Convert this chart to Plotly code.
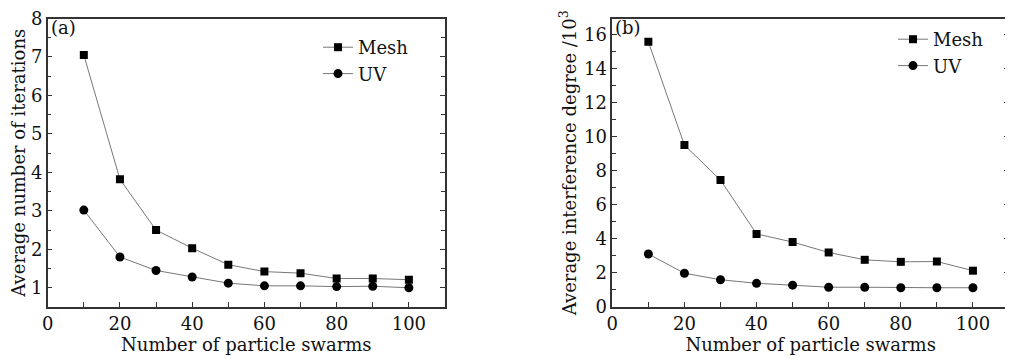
import plotly.graph_objects as go

swarms = [10, 20, 30, 40, 50, 60, 70, 80, 90, 100]
iter_mesh = [7.05, 3.82, 2.50, 2.03, 1.60, 1.42, 1.38, 1.24, 1.24, 1.21]
iter_uv = [3.02, 1.80, 1.45, 1.28, 1.12, 1.05, 1.05, 1.03, 1.04, 1.00]
interf_mesh = [15.56, 9.50, 7.45, 4.29, 3.81, 3.20, 2.77, 2.65, 2.67, 2.13]
interf_uv = [3.11, 1.98, 1.60, 1.39, 1.28, 1.16, 1.16, 1.13, 1.13, 1.13]

FONT = "DejaVu Serif"
FS = 18
TXT = "#111111"
LINE = dict(color="#777777", width=1)
W, H = 1013, 359

fig = go.Figure()
fig.add_trace(go.Scatter(x=swarms, y=iter_mesh, name="Mesh", mode="lines+markers",
                         line=LINE, marker=dict(symbol="square", size=8, color="black"),
                         xaxis="x", yaxis="y", legend="legend"))
fig.add_trace(go.Scatter(x=swarms, y=iter_uv, name="UV", mode="lines+markers",
                         line=LINE, marker=dict(symbol="circle", size=9, color="black"),
                         xaxis="x", yaxis="y", legend="legend"))
fig.add_trace(go.Scatter(x=swarms, y=interf_mesh, name="Mesh", mode="lines+markers",
                         line=LINE, marker=dict(symbol="square", size=8, color="black"),
                         xaxis="x2", yaxis="y2", legend="legend2"))
fig.add_trace(go.Scatter(x=swarms, y=interf_uv, name="UV", mode="lines+markers",
                         line=LINE, marker=dict(symbol="circle", size=9, color="black"),
                         xaxis="x2", yaxis="y2", legend="legend2"))

ydom = [60 / H, 348.5 / H]
common_x = dict(range=[0, 110], dtick=20, tick0=0, ticks="inside", ticklen=5,
                showline=True, linecolor="#333333", linewidth=1.5, mirror=True,
                showgrid=False, zeroline=False, tickcolor="#333333", automargin=False,
                ticklabeloverflow="allow",
                minor=dict(ticks="inside", ticklen=5, dtick=10, tickcolor="#333333"),
                tickfont=dict(family=FONT, size=FS, color=TXT),
                title=dict(text="Number of particle swarms", standoff=2,
                           font=dict(family=FONT, size=FS, color=TXT)))
common_y = dict(ticks="inside", ticklen=5, showline=True, linecolor="#333333",
                linewidth=1.5, mirror="ticks", showgrid=False, zeroline=False,
                tickcolor="#333333", automargin=False, ticklabeloverflow="allow",
                tickfont=dict(family=FONT, size=FS, color=TXT))

fig.update_layout(
    width=W, height=H,
    margin=dict(l=0, r=0, t=0, b=0),
    paper_bgcolor="white", plot_bgcolor="white",
    showlegend=True,
    xaxis=dict(domain=[39.7 / W, 437 / W], anchor="y", **common_x),
    yaxis=dict(domain=ydom, anchor="x", range=[0.5, 8], dtick=1,
               minor=dict(ticks="inside", ticklen=4, dtick=0.5, tickcolor="#333333"),
               title=dict(text="Average number of iterations", standoff=9,
                          font=dict(family=FONT, size=FS, color=TXT)),
               **common_y),
    xaxis2=dict(domain=[604.3 / W, 1001 / W], anchor="y2", **common_x),
    yaxis2=dict(domain=ydom, anchor="x2", range=[0, 16.93], dtick=2,
                minor=dict(ticks="inside", ticklen=4, dtick=1, tickcolor="#333333"),
                title=dict(text="Average interference degree /10<sup>3</sup>", standoff=3,
                           font=dict(family=FONT, size=FS, color=TXT)),
                **common_y),
    legend=dict(x=310 / W, y=1 - 21 / H, xanchor="left", yanchor="top",
                bgcolor="rgba(0,0,0,0)", tracegroupgap=0, itemwidth=30,
                font=dict(family=FONT, size=FS, color=TXT)),
    legend2=dict(x=885 / W, y=1 - 13 / H, xanchor="left", yanchor="top",
                 bgcolor="rgba(0,0,0,0)", tracegroupgap=0, itemwidth=30,
                 font=dict(family=FONT, size=FS, color=TXT)),
    annotations=[
        dict(text="(a)", xref="paper", yref="paper", x=41 / W, y=1 - 7 / H,
             xanchor="left", yanchor="top", showarrow=False,
             font=dict(family=FONT, size=FS, color=TXT)),
        dict(text="(b)", xref="paper", yref="paper", x=605 / W, y=1 - 7 / H,
             xanchor="left", yanchor="top", showarrow=False,
             font=dict(family=FONT, size=FS, color=TXT)),
    ],
)

fig.write_html("out.html")
